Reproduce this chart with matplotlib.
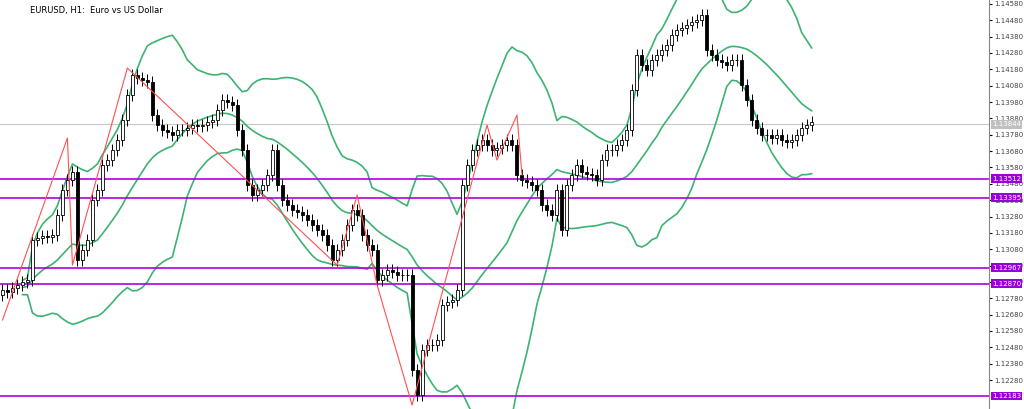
import matplotlib
matplotlib.use("Agg")
import matplotlib.pyplot as plt
import numpy as np
import pandas as pd

closes = [1.12830,1.12818,1.12842,1.12861,1.12879,1.12891,
1.13136,1.13148,1.13160,1.13154,1.13167,1.13289,
1.13442,1.13503,1.13552,1.13014,1.13075,1.13136,
1.13381,1.13442,1.13595,1.13625,1.13686,1.13748,
1.13870,1.14023,1.14145,1.14127,1.14115,1.14102,
1.13901,1.13839,1.13809,1.13797,1.13778,1.13809,
1.13809,1.13821,1.13839,1.13833,1.13839,1.13858,
1.13870,1.13931,1.13992,1.13980,1.13962,1.13809,
1.13686,1.13472,1.13411,1.13442,1.13472,1.13534,
1.13686,1.13472,1.13381,1.13350,1.13320,1.13307,
1.13289,1.13258,1.13228,1.13197,1.13167,1.13105,
1.13014,1.13075,1.13136,1.13228,1.13320,1.13289,
1.13167,1.13105,1.13075,1.12891,1.12922,1.12952,
1.12940,1.12922,1.12922,1.12922,1.12341,1.12188,
1.12463,1.12494,1.12494,1.12524,1.12738,1.12757,
1.12769,1.12830,1.13472,1.13595,1.13686,1.13717,
1.13748,1.13717,1.13686,1.13699,1.13717,1.13748,
1.13717,1.13534,1.13503,1.13491,1.13472,1.13442,
1.13350,1.13320,1.13289,1.13442,1.13197,1.13472,
1.13534,1.13595,1.13552,1.13540,1.13534,1.13503,
1.13625,1.13686,1.13686,1.13717,1.13748,1.13809,
1.14053,1.14268,1.14206,1.14176,1.14237,1.14268,
1.14298,1.14329,1.14390,1.14420,1.14433,1.14451,
1.14469,1.14482,1.14512,1.14298,1.14268,1.14237,
1.14225,1.14206,1.14237,1.14237,1.14084,1.13992,
1.13870,1.13821,1.13778,1.13778,1.13760,1.13778,
1.13748,1.13735,1.13748,1.13778,1.13821,1.13839,
1.13858]
open0 = 1.12800
zz_idx = [0,13,14,25,67,71,75,82,97,99,103,104]
zz_px = [1.12647,1.13760,1.12983,1.14188,1.12983,1.13411,1.12861,1.12127,1.13839,1.13625,1.13901,1.13534]
levels = [1.13512,1.13395,1.12967,1.12870,1.12183]
current = 1.13844
wick = 0.00035

c = np.array(closes)
o = np.concatenate([[open0], c[:-1]])
hi = np.maximum(o, c) + wick
lo = np.minimum(o, c) - wick
s = pd.Series(c)
mid = s.rolling(20, min_periods=5).mean()
sd = s.rolling(20, min_periods=5).std(ddof=0)

fig = plt.figure(figsize=(10.24, 4.09), dpi=100)
ax = fig.add_axes([0, 0, 989/1024, 1])
x = np.arange(len(c))
green = '#3cb371'
ax.plot(x, mid, color=green, lw=1.2)
ax.plot(x, mid + 2*sd, color=green, lw=1.2)
ax.plot(x, mid - 2*sd, color=green, lw=1.2)
for i in x:
    ax.vlines(i, lo[i], hi[i], color='black', lw=0.7, zorder=3)
    bull = c[i] >= o[i]
    b0, b1 = min(o[i], c[i]), max(o[i], c[i])
    if b1 - b0 < 0.00003: b1 = b0 + 0.00003
    ax.add_patch(plt.Rectangle((i-0.3, b0), 0.6, b1-b0, facecolor='white' if bull else 'black',
                               edgecolor='black', lw=0.6, zorder=4))
ax.plot(zz_idx, zz_px, color='#ff5050', lw=0.8, zorder=5)
ax.axhline(current, color='#c8c8c8', lw=0.8, zorder=1)
lab = dict(fontsize=5, color='white', va='center', ha='left', clip_on=False, zorder=10)
for lv in levels:
    ax.axhline(lv, color='#b000e0', lw=1.2, zorder=2)
    ax.text(1.003, lv, f"{lv:.5f}", transform=ax.get_yaxis_transform(),
            bbox=dict(facecolor='#9a00d8', edgecolor='none', pad=1), **lab)
ax.text(1.003, current, f"{current:.5f}", transform=ax.get_yaxis_transform(),
        bbox=dict(facecolor='#c0c0c0', edgecolor='none', pad=1), **lab)
ax.set_xlim(-0.5, 197.5)
ax.set_ylim(1.12103, 1.14604)
ax.yaxis.tick_right()
ticks = [1.12280 + 0.001*k for k in range(24)]
ax.set_yticks(ticks)
ax.set_yticklabels([f"{t:.5f}" for t in ticks], fontsize=5, color='#444444')
ax.tick_params(axis='y', length=2.5, pad=1.5)
ax.set_xticks([])
for sp in ['top', 'bottom', 'left']:
    ax.spines[sp].set_visible(False)
ax.spines['right'].set_color('#888888')
ax.text(0.03, 0.985, "EURUSD, H1:  Euro vs US Dollar", transform=ax.transAxes, fontsize=6, va='top')
fig.savefig("out.png", dpi=100)
